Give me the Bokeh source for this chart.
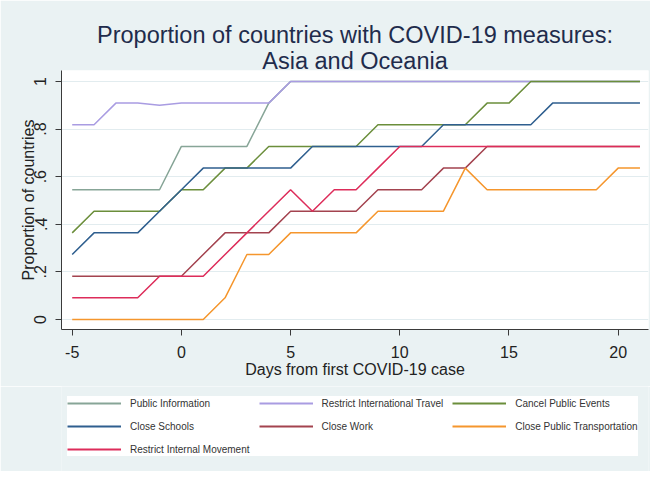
from bokeh.plotting import figure
from bokeh.models import Legend, LegendItem, Title, FixedTicker
from bokeh.layouts import column
from bokeh.embed import file_html
from bokeh.resources import INLINE

# ---------------- data ----------------
days = [-5, -4, -3, -2, -1, 0, 1, 2, 3, 4, 5, 6, 7, 8, 9, 10, 11, 12, 13, 14, 15, 16, 17, 18, 19, 20, 21]

public_information = [0.545, 0.545, 0.545, 0.545, 0.545, 0.727, 0.727, 0.727, 0.727, 0.909,
                      1.0, 1.0, 1.0, 1.0, 1.0, 1.0, 1.0, 1.0, 1.0, 1.0, 1.0, 1.0, 1.0, 1.0, 1.0, 1.0, 1.0]
restrict_international_travel = [0.818, 0.818, 0.909, 0.909, 0.900, 0.909, 0.909, 0.909, 0.909, 0.909,
                                  1.0, 1.0, 1.0, 1.0, 1.0, 1.0, 1.0, 1.0, 1.0, 1.0, 1.0, 1.0, 1.0, 1.0, 1.0, 1.0, 1.0]
cancel_public_events = [0.364, 0.455, 0.455, 0.455, 0.455, 0.545, 0.545, 0.636, 0.636, 0.727,
                        0.727, 0.727, 0.727, 0.727, 0.818, 0.818, 0.818, 0.818, 0.818, 0.909,
                        0.909, 1.0, 1.0, 1.0, 1.0, 1.0, 1.0]
close_schools = [0.273, 0.364, 0.364, 0.364, 0.455, 0.545, 0.636, 0.636, 0.636, 0.636,
                 0.636, 0.727, 0.727, 0.727, 0.727, 0.727, 0.727, 0.818, 0.818, 0.818,
                 0.818, 0.818, 0.909, 0.909, 0.909, 0.909, 0.909]
close_work = [0.182, 0.182, 0.182, 0.182, 0.182, 0.182, 0.273, 0.364, 0.364, 0.364,
              0.455, 0.455, 0.455, 0.455, 0.545, 0.545, 0.545, 0.636, 0.636, 0.727,
              0.727, 0.727, 0.727, 0.727, 0.727, 0.727, 0.727]
close_public_transportation = [0.0, 0.0, 0.0, 0.0, 0.0, 0.0, 0.0, 0.091, 0.273, 0.273,
                               0.364, 0.364, 0.364, 0.364, 0.455, 0.455, 0.455, 0.455, 0.636, 0.545,
                               0.545, 0.545, 0.545, 0.545, 0.545, 0.636, 0.636]
restrict_internal_movement = [0.091, 0.091, 0.091, 0.091, 0.182, 0.182, 0.182, 0.273, 0.364, 0.455,
                              0.545, 0.455, 0.545, 0.545, 0.636, 0.727, 0.727, 0.727, 0.727, 0.727,
                              0.727, 0.727, 0.727, 0.727, 0.727, 0.727, 0.727]

series_names = ["Public Information", "Restrict International Travel", "Cancel Public Events",
                "Close Schools", "Close Work", "Close Public Transportation",
                "Restrict Internal Movement"]
series_values = [public_information, restrict_international_travel, cancel_public_events,
                 close_schools, close_work, close_public_transportation, restrict_internal_movement]
series_colors = ["#87a597", "#a99ce2", "#6b8e3b", "#2f5f8f", "#a3434f", "#f5962d", "#dd2c5a"]

xtick_values = [-5, 0, 5, 10, 15, 20]
xtick_labels = ["-5", "0", "5", "10", "15", "20"]
ytick_values = [0, 0.2, 0.4, 0.6, 0.8, 1]
ytick_labels = ["0", ".2", ".4", ".6", ".8", "1"]

title_line1 = "Proportion of countries with COVID-19 measures:"
title_line2 = "Asia and Oceania"
x_title = "Days from first COVID-19 case"
y_title = "Proportion of countries"

FONT = "Liberation Sans"
BG = "#eaf2f3"

# ---------------- main chart ----------------
p = figure(width=650, height=386, output_backend="svg", toolbar_location=None, title=None,
           x_range=(-5.49, 21.39), y_range=(-0.042, 1.046),
           min_border_left=61, min_border_right=2, min_border_top=70, min_border_bottom=57,
           background_fill_color="white", border_fill_color=BG, outline_line_color=None)

renderers = []
for name, vals, col in zip(series_names, series_values, series_colors):
    r = p.line(days, vals, line_color=col, line_width=1.5)
    renderers.append(r)

# titles (added inner first, outer last)
t2 = Title(text=title_line2, align="center", text_font=FONT, text_font_size="23.5px",
           text_font_style="normal", text_color="#1f2c4c", standoff=-6)
t1 = Title(text=title_line1, align="center", text_font=FONT, text_font_size="23.5px",
           text_font_style="normal", text_color="#1f2c4c", standoff=1)
p.add_layout(t2, "above")
p.add_layout(t1, "above")

for ax in (p.xaxis[0], p.yaxis[0]):
    ax.axis_line_color = "#3a3a3a"
    ax.major_tick_line_color = "#3a3a3a"
    ax.major_tick_out = 6
    ax.major_tick_in = 0
    ax.minor_tick_out = 0
    ax.minor_tick_in = 0
    ax.major_label_text_font = FONT
    ax.major_label_text_font_size = "16px"
    ax.major_label_text_color = "#222222"
    ax.axis_label_text_font = FONT
    ax.axis_label_text_font_size = "16px"
    ax.axis_label_text_font_style = "normal"
    ax.axis_label_text_color = "#222222"

p.xaxis.ticker = FixedTicker(ticks=xtick_values)
p.xaxis.major_label_overrides = dict(zip(xtick_values, xtick_labels))
p.xaxis.axis_label = x_title
p.xaxis.major_label_standoff = 10
p.xaxis.axis_label_standoff = 0

p.yaxis.ticker = FixedTicker(ticks=ytick_values)
p.yaxis.major_label_overrides = dict(zip(ytick_values, ytick_labels))
p.yaxis.major_label_orientation = "vertical"
p.yaxis.axis_label = y_title
p.yaxis.major_label_standoff = 9
p.yaxis.axis_label_standoff = -5

p.xgrid.grid_line_color = None
p.ygrid.grid_line_color = "#e2ecef"
p.ygrid.grid_line_width = 1

# ---------------- legend strip ----------------
lg = figure(width=650, height=85, output_backend="svg", toolbar_location=None, title=None,
            x_range=(100, 101), y_range=(100, 101),
            x_axis_location=None, y_axis_location=None,
            min_border_left=0, min_border_right=0, min_border_top=0, min_border_bottom=0,
            background_fill_color=BG, border_fill_color=BG, outline_line_color=None)
lg.xgrid.visible = False
lg.ygrid.visible = False
leg_renderers = []
for name, vals, col in zip(series_names, series_values, series_colors):
    leg_renderers.append(lg.line(days, vals, line_color=col, line_width=2))

items = [LegendItem(label=n, renderers=[r]) for n, r in zip(series_names, leg_renderers)]
legend = Legend(items=items, orientation="horizontal", ncols=3, location=(6, 15), margin=0, padding=9,
                glyph_width=54, glyph_height=14, label_height=14, label_standoff=9, spacing=9,
                label_width=118, label_text_font=FONT, label_text_font_size="10px",
                label_text_color="#333333", border_line_color=None,
                background_fill_color="white", background_fill_alpha=1.0)
lg.add_layout(legend, "center")

layout = column(p, lg, spacing=0)
open("out.html", "w").write(file_html(layout, INLINE))
